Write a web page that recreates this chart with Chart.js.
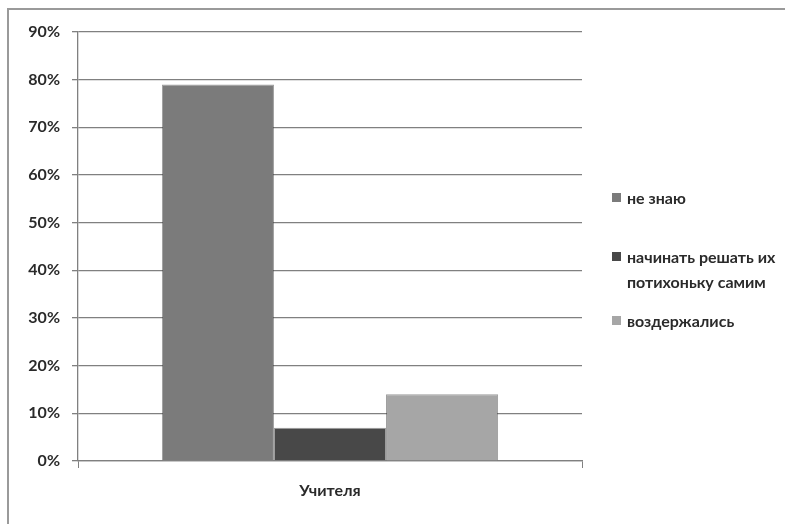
<!DOCTYPE html>
<html>
<head>
<meta charset="utf-8">
<script src="https://cdn.jsdelivr.net/npm/chart.js@4/dist/chart.umd.min.js"></script>
<style>
    html, body { margin:0; padding:0; background:#fff; }
    #wrap { position:relative; width:785px; height:524px; overflow:hidden; }
    #frame { position:absolute; left:7px; top:8px; width:800px; height:600px;
             border-left:2px solid #9a9a9a; border-top:2px solid #9a9a9a; }
    #chart { position:absolute; left:0; top:0; }
    #legend { position:absolute; left:612px; top:0; font-family:Lato, "Noto Sans", sans-serif;
              font-weight:bold; font-size:16px; color:#2a2a2a; }
    .item { position:absolute; left:0; white-space:pre; line-height:25px; padding-left:15px; }
    .item:nth-child(1) { top:185px; }
    .item:nth-child(2) { top:244px; }
    .item:nth-child(3) { top:308px; }
    .box { position:absolute; left:0; top:8px; width:9px; height:9px; }
</style>
</head>
<body>
<div id="wrap">
    <div id="frame"></div>
    <canvas id="chart" width="785" height="524"></canvas>
    <div id="legend"></div>
</div>
<script>
// data
const categories = ['Учителя'];
const seriesLabels = ['не знаю', 'начинать решать их\nпотихоньку самим', 'воздержались'];
const seriesValues = [[0.79], [0.07], [0.14]];
const seriesColors = ['#7b7b7b', '#484848', '#a6a6a6'];
const yTicks = [0, 0.1, 0.2, 0.3, 0.4, 0.5, 0.6, 0.7, 0.8, 0.9];

const fontFamily = 'Lato, "Noto Sans", sans-serif';

const datasets = seriesLabels.map((label, i) => ({
    label: label,
    data: seriesValues[i],
    backgroundColor: seriesColors[i],
    borderColor: 'rgba(60,60,60,0.5)',
    borderWidth: 1,
    categoryPercentage: 0.667,
    barPercentage: 1.0,
}));

const chart = new Chart(document.getElementById('chart'), {
    type: 'bar',
    data: { labels: categories, datasets: datasets },
    options: {
        responsive: false,
        maintainAspectRatio: false,
        animation: false,
        layout: { padding: { left: 0, top: 32, right: 203, bottom: 0 } },
        plugins: { legend: { display: false }, tooltip: { enabled: false } },
        scales: {
            x: {
                grid: { display: true, drawOnChartArea: false, offset: true, color: '#808080', tickLength: 7 },
                border: { display: true, color: '#808080', width: 1.3 },
                ticks: { color: '#2a2a2a', padding: 13, font: { family: fontFamily, size: 16, weight: 'bold' } },
                afterFit(scale) { scale.height = 63; },
            },
            y: {
                min: 0,
                max: 0.9,
                afterBuildTicks(scale) { scale.ticks = yTicks.map(v => ({ value: v })); },
                grid: { color: '#808080', tickLength: 6, lineWidth: 1.3 },
                border: { display: true, color: '#808080', width: 1.3 },
                ticks: {
                    color: '#2a2a2a',
                    padding: 12,
                    font: { family: fontFamily, size: 16, weight: 'bold' },
                    callback: v => Math.round(v * 100) + '%',
                },
                afterFit(scale) { scale.width = 78; },
            },
        },
    },
});

// legend from the datasets
const legend = document.getElementById('legend');
chart.data.datasets.forEach(ds => {
    const item = document.createElement('div');
    item.className = 'item';
    const box = document.createElement('span');
    box.className = 'box';
    box.style.background = ds.backgroundColor;
    item.appendChild(box);
    item.appendChild(document.createTextNode(ds.label));
    legend.appendChild(item);
});
</script>
</body>
</html>
